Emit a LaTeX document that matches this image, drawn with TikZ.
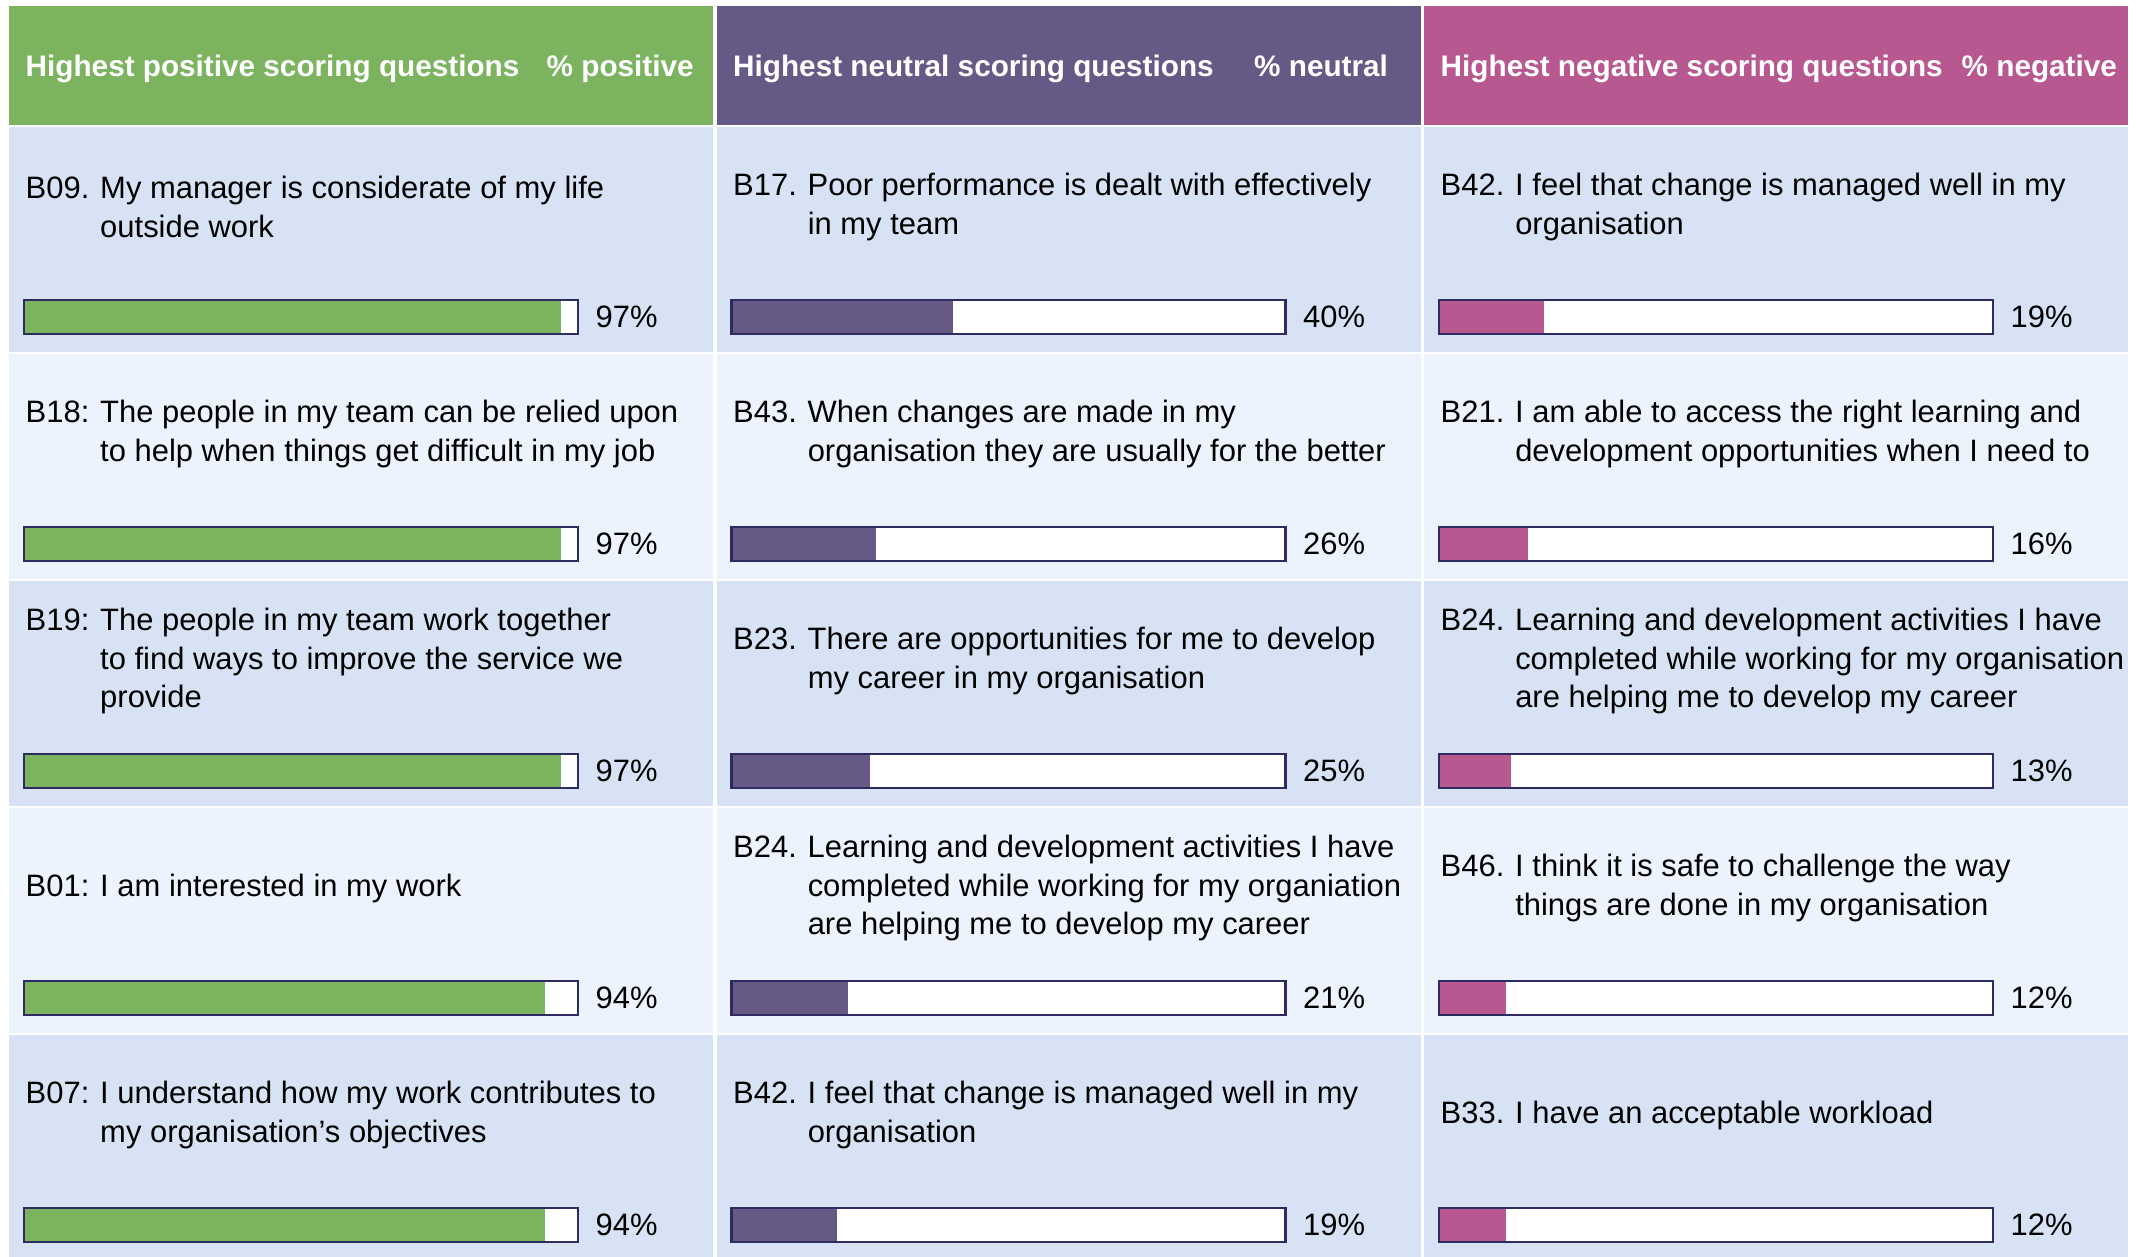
\documentclass[tikz,border=0pt]{standalone}
\usepackage{fontspec}
\setmainfont{Liberation Sans}

\definecolor{posgreen}{HTML}{7BB35F}
\definecolor{neupurple}{HTML}{665985}
\definecolor{negpink}{HTML}{B75891}
\definecolor{rowdark}{HTML}{D7E3F4}
\definecolor{rowlight}{HTML}{ECF3FC}
\definecolor{barline}{HTML}{2E2A62}
\colorlet{bar1}{posgreen}
\colorlet{bar2}{neupurple}
\colorlet{bar3}{negpink}
\colorlet{row1}{rowdark}
\colorlet{row2}{rowlight}
\colorlet{row3}{rowdark}
\colorlet{row4}{rowlight}
\colorlet{row5}{rowdark}

\newcommand{\qlab}[1]{\makebox[0.745cm][l]{#1}}
\newcommand{\qcont}{\hspace*{0.745cm}}

\begin{document}
\begin{tikzpicture}[x=0.01cm,y=-0.01cm]
            \tikzset{
                headtext/.style={anchor=base west,inner sep=0pt,text=white,font=\fontsize{8.45pt}{10pt}\selectfont\bfseries},
                qtext/.style={anchor=west,inner sep=0pt,align=left,font=\fontsize{8.8pt}{10.9pt}\selectfont},
                pcttext/.style={anchor=west,inner sep=0pt,font=\fontsize{8.8pt}{10.9pt}\selectfont},
                barframe/.style={draw=barline,line width=0.6pt}
            }
            \fill[white] (0,0) rectangle (2143,1256);
            \useasboundingbox (0,0) rectangle (2143,1256);

            % header cells
            \foreach \col/\head/\pcthead in {1/Highest positive scoring questions/\% positive,
                    2/Highest neutral scoring questions/\% neutral,
                    3/Highest negative scoring questions/\% negative}{
                    \pgfmathsetmacro{\cx}{9+707.5*(\col-1)}
                    \fill[bar\col] (\cx,6) rectangle ++(704,119);
                    \node[headtext] (h\col) at (\cx+16,76) {\head};
                    \node[headtext] (hp\col) at (\cx+537,76) {\pcthead};
                }

            % question cells with bars
            \foreach \col/\row/\v/\q in {
                    1/1/97/{\qlab{B09.}My manager is considerate of my life\\\qcont outside work},
                    1/2/97/{\qlab{B18:}The people in my team can be relied upon\\\qcont to help when things get difficult in my job},
                    1/3/97/{\qlab{B19:}The people in my team work together\\\qcont to find ways to improve the service we\\\qcont provide},
                    1/4/94/{\qlab{B01:}I am interested in my work},
                    1/5/94/{\qlab{B07:}I understand how my work contributes to\\\qcont my organisation’s objectives},
                    2/1/40/{\qlab{B17.}Poor performance is dealt with effectively\\\qcont in my team},
                    2/2/26/{\qlab{B43.}When changes are made in my\\\qcont organisation they are usually for the better},
                    2/3/25/{\qlab{B23.}There are opportunities for me to develop\\\qcont my career in my organisation},
                    2/4/21/{\qlab{B24.}Learning and development activities I have\\\qcont completed while working for my organiation\\\qcont are helping me to develop my career},
                    2/5/19/{\qlab{B42.}I feel that change is managed well in my\\\qcont organisation},
                    3/1/19/{\qlab{B42.}I feel that change is managed well in my\\\qcont organisation},
                    3/2/16/{\qlab{B21.}I am able to access the right learning and\\\qcont development opportunities when I need to},
                    3/3/13/{\qlab{B24.}Learning and development activities I have\\\qcont completed while working for my organisation\\\qcont are helping me to develop my career},
                    3/4/12/{\qlab{B46.}I think it is safe to challenge the way\\\qcont things are done in my organisation},
                    3/5/12/{\qlab{B33.}I have an acceptable workload}}{
                    \pgfmathsetmacro{\cx}{9+707.5*(\col-1)}
                    \pgfmathsetmacro{\ry}{127+227*(\row-1)}
                    \pgfmathsetmacro{\bx}{\cx+15}
                    \pgfmathsetmacro{\by}{\ry+173}
                    \fill[row\row] (\cx,\ry) rectangle ++(704,225);
                    \node[qtext] (q\col\row) at (\cx+16,\ry+80) {\q};
                    \fill[white] (\bx,\by) rectangle ++(554,34);
                    \fill[bar\col] (\bx,\by) rectangle ++(5.54*\v,34);
                    \draw[barframe] (\bx,\by) rectangle ++(554,34);
                    \node[pcttext] (v\col\row) at (\bx+571,\by+17) {\v\%};
                }
        \end{tikzpicture}
\end{document}
